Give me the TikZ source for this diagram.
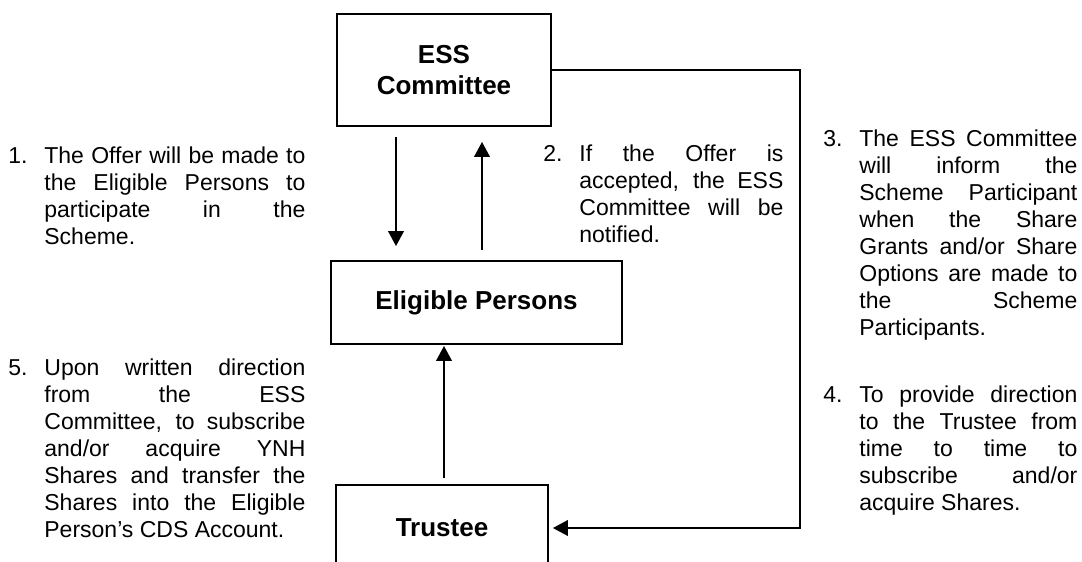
\documentclass[tikz,border=0pt]{standalone}
\usepackage{fontspec}
\setmainfont{Liberation Sans}
\usepackage{tikz}
\usetikzlibrary{arrows.meta}
\tikzstyle{node:party}=[rectangle,draw,line width=0.9pt,align=center,inner sep=0pt,font=\fontsize{13}{15.5}\selectfont\bfseries]
\tikzstyle{node:stepitem}=[anchor=north west,inner sep=0pt,align=justify,font=\fontsize{11.5}{13.5}\selectfont]
\tikzstyle{draw:flow}=[-{Triangle[width=7.8pt,length=7.5pt]}, line width=0.9pt]
\newcommand{\stepitem}[2]{\tolerance=10000\hyphenpenalty=10000\relax
  \hangindent=18pt\hangafter=1\noindent\rule{0pt}{8.5pt}\makebox[18pt][l]{#1}#2\par}

\begin{document}
\begin{tikzpicture}[x=0.5pt, y=-0.5pt]
        \useasboundingbox (0,0) rectangle (1082,562);

        % Parties
        \node[node:party, minimum width=107pt, minimum height=56pt] (ess) at (444,70) {ESS\\Committee};
        \node[node:party, minimum width=145.5pt, minimum height=41.5pt] (elig) at (476.5,302.5) {Eligible Persons};
        \node[node:party, minimum width=106pt, minimum height=43pt] (trustee) at (442,528) {Trustee};
        \coordinate (turn) at (800,528);

        % Connections
        \draw[draw:flow, shorten <=5pt, shorten >=7pt] (ess.south -| 396,0) -- (elig.north -| 396,0);
        \draw[draw:flow, shorten <=5pt, shorten >=7.5pt] (elig.north -| 482,0) -- (ess.south -| 482,0);
        \draw[draw:flow, shorten <=3pt, shorten >=0.5pt] (trustee.north -| 444,0) -- (elig.south -| 444,0);
        \draw[draw:flow, shorten >=2pt] (ess.east) -| (turn) -- (trustee.east);

        % Steps
        \node[node:stepitem, text width=148.5pt] (offer) at (8,146) {\stepitem{1.}{The Offer will be made to\linebreak the Eligible Persons to\linebreak participate in the\linebreak Scheme.}};
        \node[node:stepitem, text width=120pt] (accept) at (543,144) {\stepitem{2.}{If the Offer is\linebreak accepted, the ESS\linebreak Committee will be\linebreak notified.}};
        \node[node:stepitem, text width=127pt] (inform) at (823,129) {\stepitem{3.}{The ESS Committee\linebreak will inform the\linebreak Scheme Participant\linebreak when the Share\linebreak Grants and/or Share\linebreak Options are made to\linebreak the Scheme\linebreak Participants.}};
        \node[node:stepitem, text width=127pt] (direct) at (823,385) {\stepitem{4.}{To provide direction\linebreak to the Trustee from\linebreak time to time to\linebreak subscribe and/or\linebreak acquire Shares.}};
        \node[node:stepitem, text width=148.5pt] (transfer) at (8,358) {\stepitem{5.}{Upon written direction\linebreak from the ESS\linebreak Committee, to subscribe\linebreak and/or acquire YNH\linebreak Shares and transfer the\linebreak Shares into the Eligible\linebreak Person’s CDS Account.}};

\end{tikzpicture}
\end{document}
